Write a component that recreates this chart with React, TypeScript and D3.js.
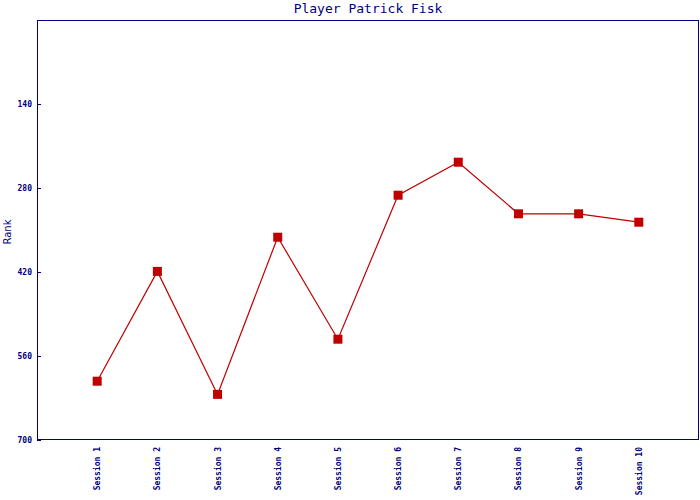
import React from "react";
import * as d3 from "d3";

const categories = ["Session 1","Session 2","Session 3","Session 4","Session 5","Session 6","Session 7","Session 8","Session 9","Session 10"];
const ranks = [602, 419, 624, 362, 532, 292, 237, 323, 323, 337];
const yTicks = [140, 280, 420, 560, 700];
const title = "Player Patrick Fisk";
const yLabel = "Rank";

const W = 700, H = 500;
const left = 37, right = 699, top = 20, bottom = 440;
const navy = "#000080";
const red = "#c00000";
const mono = "'DejaVu Sans Mono', 'Liberation Mono', monospace";

export default function App() {
  const x = d3.scalePoint<string>().domain(categories).range([left, right]).padding(1);
  const y = d3.scaleLinear().domain([0, 700]).range([top, bottom]);
  const line = d3.line<number>().x((_, i) => x(categories[i])!).y((d) => y(d));
  return (
    <svg width={W} height={H} style={{ position: "absolute", left: 0, top: 0, background: "#fff" }}>
      <rect x={0} y={0} width={W} height={H} fill="#fff" />
      <text x={(left + right) / 2} y={13} textAnchor="middle" fill={navy} fontFamily={mono} fontSize={13}>{title}</text>
      <rect x={left + 0.5} y={top + 0.5} width={right - left - 1} height={bottom - top - 1} fill="none" stroke={navy} strokeWidth={1} />
      {yTicks.map((t) => (
        <g key={t}>
          <line x1={left} x2={left + 4} y1={Math.round(y(t)) + 0.5} y2={Math.round(y(t)) + 0.5} stroke={navy} />
          <text x={32} y={y(t) + 3} textAnchor="end" fill={navy} fontFamily={mono} fontSize={8} fontWeight="bold">{t}</text>
        </g>
      ))}
      <text transform={`translate(11,232) rotate(-90)`} textAnchor="middle" fill={navy} fontFamily="'DejaVu Sans', sans-serif" fontSize={10}>{yLabel}</text>
      {categories.map((c) => (
        <text key={c} transform={`translate(${x(c)! + 3},447) rotate(-90)`} textAnchor="end" fill={navy} fontFamily={mono} fontSize={8} fontWeight="bold">{c}</text>
      ))}
      <path d={line(ranks)!} fill="none" stroke={red} strokeWidth={1.2} />
      {ranks.map((r, i) => (
        <rect key={i} x={x(categories[i])! - 4.5} y={y(r) - 4.5} width={9} height={9} fill={red} />
      ))}
    </svg>
  );
}
